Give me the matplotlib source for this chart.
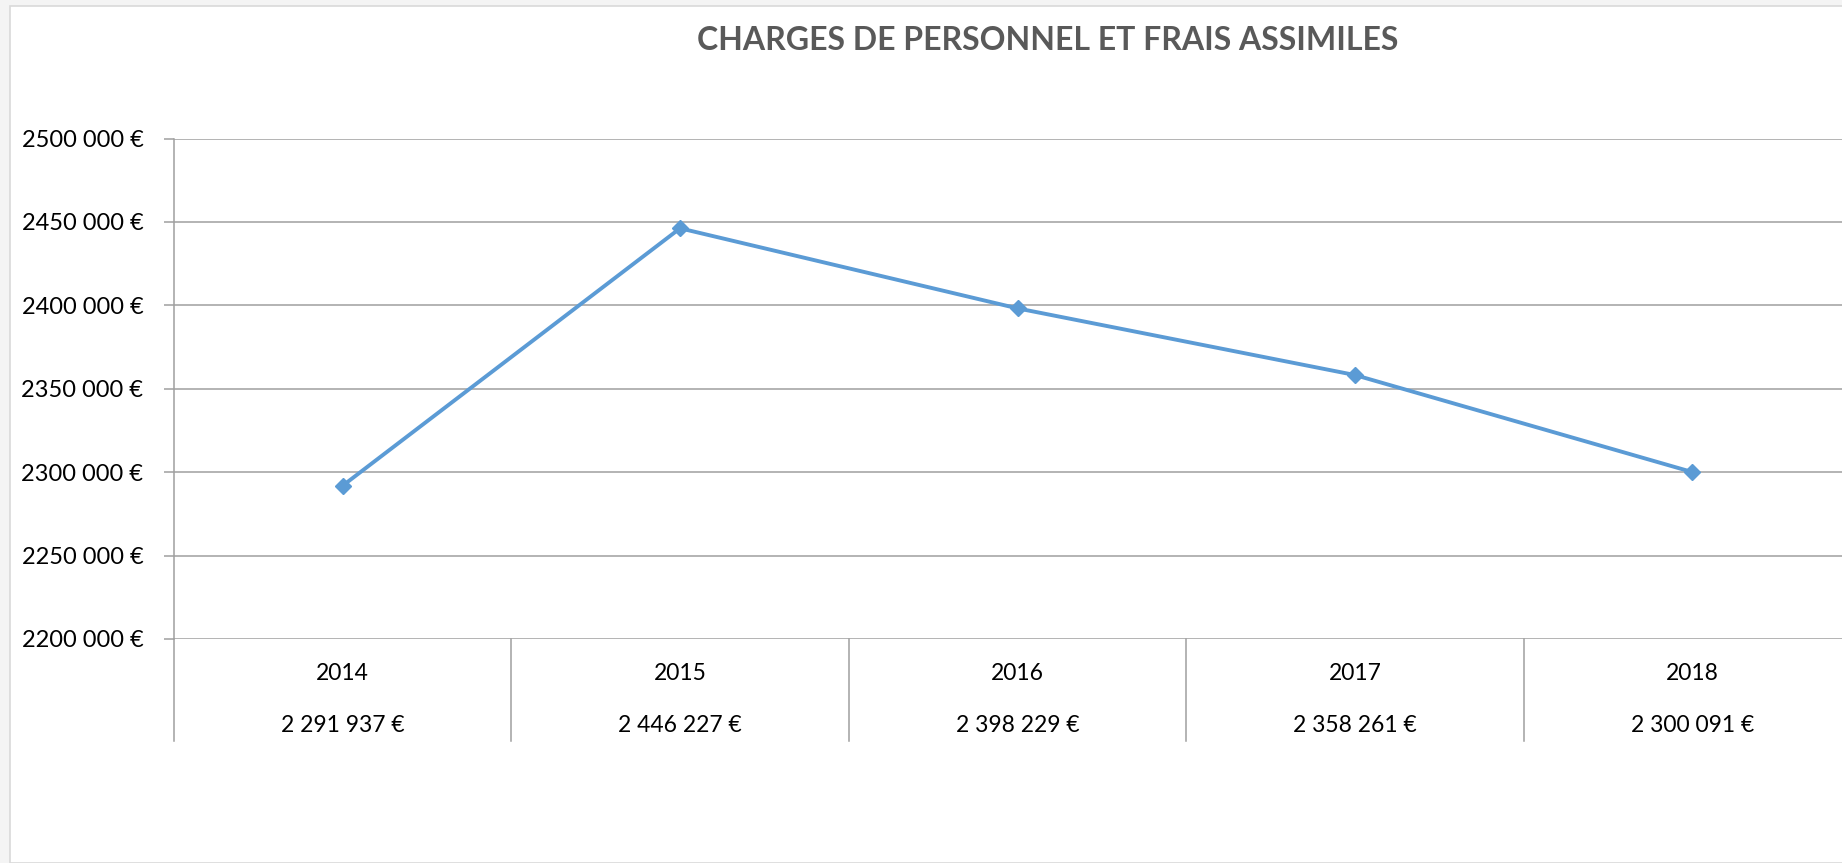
import matplotlib
matplotlib.use("Agg")
import matplotlib.pyplot as plt
from matplotlib.patches import Rectangle

years = ["2014", "2015", "2016", "2017", "2018"]
values = [2291937, 2446227, 2398229, 2358261, 2300091]
yticks = [2200000, 2250000, 2300000, 2350000, 2400000, 2450000, 2500000]
title = "CHARGES DE PERSONNEL ET FRAIS ASSIMILES"

plt.rcParams['font.family'] = ['Lato', 'DejaVu Sans']

W, H = 1842, 863
fig = plt.figure(figsize=(W / 100, H / 100), dpi=100)
fig.patch.set_facecolor('#f4f4f4')

# white chart frame
frame = Rectangle((10 / W, 0), 1.0, 1 - 6 / H, transform=fig.transFigure,
                  facecolor='white', edgecolor='#d9d9d9', linewidth=1.2, zorder=-10)
fig.patches.append(frame)

left, right = 174 / W, 1861 / W
top, bottom = 1 - 138.6 / H, 1 - 639 / H
ax = fig.add_axes([left, bottom, right - left, top - bottom])
ax.set_facecolor('none')
ax.set_zorder(5)

x = list(range(len(years)))
ax.plot(x, values, color='#5B9BD5', linewidth=2.8, marker='D', markersize=8,
        markerfacecolor='#5B9BD5', markeredgecolor='#5B9BD5', zorder=3, clip_on=False)

ax.set_xlim(-0.5, len(years) - 0.5)
ax.set_ylim(yticks[0], yticks[-1])
ax.set_yticks(yticks)
ax.set_yticklabels([f"{v // 1000} {v % 1000:03d} €" for v in yticks], fontsize=17, color='black')
ax.yaxis.grid(True, color='#9f9f9f', linewidth=1.1)
ax.set_axisbelow(True)
ax.tick_params(axis='y', length=7, width=1.1, color='#9f9f9f', pad=15)
ax.set_xticks([])
for s in ['top', 'right', 'bottom']:
    ax.spines[s].set_visible(False)
ax.spines['left'].set_color('#9f9f9f')
ax.spines['left'].set_linewidth(1.1)

# data table below axis
axh = (top - bottom) * H
tr = ax.get_xaxis_transform()
for i, (yr, v) in enumerate(zip(years, values)):
    ax.text(i, -34 / axh, yr, transform=tr, ha='center', va='center', fontsize=16.5)
    ax.text(i, -86 / axh, f"{v:,}".replace(",", " ") + " €", transform=tr,
            ha='center', va='center', fontsize=16.5)
for i in range(len(years) + 1):
    b = i - 0.5
    ax.plot([b, b], [0, -102 / axh], transform=tr, color='#9f9f9f', linewidth=1.1, clip_on=False)

fig.text(892 * 1.1747 / W, 1 - 40 / H, title, ha='center', va='center',
         fontsize=23, fontweight='bold', color='#595959')

fig.savefig("out.png", dpi=100, facecolor=fig.get_facecolor())
